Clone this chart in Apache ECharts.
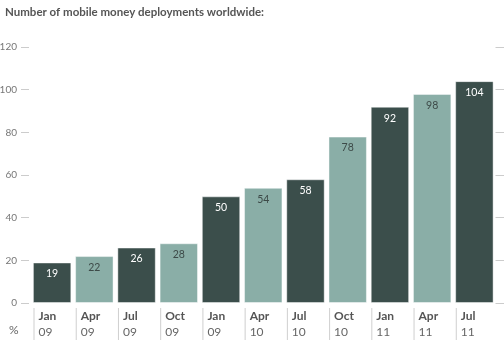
<!DOCTYPE html>
<html>
<head>
<meta charset="utf-8">
<script src="https://cdn.jsdelivr.net/npm/echarts@6/dist/echarts.min.js"></script>
<style>html,body{margin:0;padding:0;background:#fff}#c{width:504px;height:340px}</style>
</head>
<body>
<div id="c"></div>
<script>
var months = ['Jan','Apr','Jul','Oct','Jan','Apr','Jul','Oct','Jan','Apr','Jul'];
var years = ['09','09','09','09','09','10','10','10','11','11','11'];
var values = [19,22,26,28,50,54,58,78,92,98,104];
var shades = ['dark','light','dark','light','dark','light','dark','light','dark','light','dark'];
var yTicks = [0,20,40,60,80,100,120];

var FONT = 'Lato, "Open Sans", sans-serif';
var DARK = '#3b4e4b', LIGHT = '#8aaea7';
var categories = months.map(function(m,i){return m+' '+years[i];});
// label axis: one entry per band boundary (last boundary has no label)
var boundaryLabels = months.map(function(m,i){return m+'|'+years[i];}).concat(['']);

var chart = echarts.init(document.getElementById('c'), null, {renderer:'canvas'});
chart.setOption({
  animation:false,
  textStyle:{fontFamily:FONT},
  title:{text:'Number of mobile money deployments worldwide:', left:0, top:1,
    textStyle:{fontFamily:FONT, fontSize:11.5, fontWeight:'bold', color:'#555'}},
  graphic:[{type:'text', left:9, top:324, style:{text:'%', font:'12px '+FONT, fill:'#666'}}],
  grid:{left:31, right:8.5, top:47, bottom:37, containLabel:false, outerBoundsMode:'none'},
  xAxis:[{type:'category', data:categories,
      axisLine:{show:false}, axisTick:{show:false}, axisLabel:{show:false}},
    {type:'category', data:boundaryLabels, boundaryGap:false, position:'bottom',
      axisLine:{show:false}, axisTick:{show:false},
      axisLabel:{interval:0, margin:5, align:'left', showMinLabel:true, showMaxLabel:true,
        formatter:function(v){
          if(!v) return '';
          var p=v.split('|');
          return '{g|}{s|}{h|}{b|'+p[0]+'}\n{g|}{s|}{h|}{n|'+p[1]+'}';
        },
        rich:{
          g:{width:2.5,height:16,lineHeight:16},
          s:{width:1,height:16,lineHeight:16,backgroundColor:'#cfcfcf'},
          h:{width:4,height:16,lineHeight:16},
          b:{fontSize:12,fontWeight:'bold',color:'#555',lineHeight:16,fontFamily:FONT},
          n:{fontSize:12,color:'#666',lineHeight:16,fontFamily:FONT}
        }}}],
  yAxis:[{type:'value', min:yTicks[0], max:yTicks[yTicks.length-1], interval:20, offset:2,
      axisLine:{show:false}, axisTick:{show:true,length:8,lineStyle:{color:'#cccccc'}},
      splitLine:{show:false},
      axisLabel:{margin:12,fontSize:10,color:'#777',fontFamily:FONT}},
    {type:'value', position:'right', min:yTicks[0], max:yTicks[yTicks.length-1], interval:20,
      axisLine:{show:false}, axisTick:{show:true,length:9,lineStyle:{color:'#cccccc'}},
      splitLine:{show:false}, axisLabel:{show:false}}],
  series:[{type:'bar', xAxisIndex:0, yAxisIndex:0, barCategoryGap:'9%',
    data:values.map(function(v,i){
      var d = shades[i]==='dark';
      return {value:v, itemStyle:{color:d?DARK:LIGHT},
        label:{color:d?'#ffffff':'#3d4a48'}};
    }),
    itemStyle:{borderColor:'rgba(255,255,255,0.45)',borderWidth:1},
    label:{show:true,position:'insideTop',distance:6,fontSize:10.5,fontFamily:FONT}
  }]
});
</script>
</body>
</html>
